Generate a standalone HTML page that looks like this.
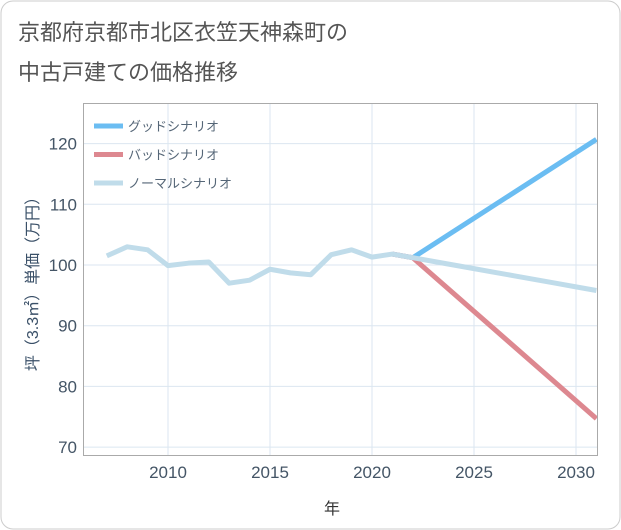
<!DOCTYPE html>
<html><head><meta charset="utf-8"><style>
body{margin:0;background:#fff;}
svg{display:block;font-family:"Liberation Sans","Noto Sans CJK JP",sans-serif;}
</style></head><body>
<svg width="621" height="530">
<rect x="1" y="1" width="619" height="528" rx="12" fill="#fff" stroke="#ccc"/>
<text x="18" y="40" font-size="22" fill="#555">京都府京都市北区衣笠天神森町の</text>
<text x="18" y="80" font-size="22" fill="#555">中古戸建ての価格推移</text>
<g id="grid"></g>
<g id="series"></g>
<rect x="83.5" y="103.5" width="514" height="352" fill="none" stroke="#aaa"/>
<g id="legend"></g>
<text x="38" y="280" font-size="16" fill="#3a5068" text-anchor="middle" transform="rotate(-90 38 280)">坪（3.3㎡）単価（万円）</text>
<text x="332" y="514" font-size="16" fill="#333" text-anchor="middle">年</text>
</svg>
<script>
const years=[2007,2008,2009,2010,2011,2012,2013,2014,2015,2016,2017,2018,2019,2020,2021,2022,2023,2024,2025,2026,2027,2028,2029,2030,2031];
const normal=[101.5,103,102.5,99.9,100.3,100.5,97,97.5,99.3,98.7,98.4,101.7,102.5,101.3,101.8,101.2,100.6,100.0,99.4,98.8,98.2,97.6,97.0,96.4,95.8];
const goodYears=[2021,2022,2031];
const good=[101.8,101.2,120.7];
const badYears=[2021,2022,2031];
const bad=[101.8,101.2,74.7];
const xTicks=[2010,2015,2020,2025,2030];
const yTicks=[70,80,90,100,110,120];
const NS='http://www.w3.org/2000/svg';
const X=v=>168+(v-2010)*20.4;
const Y=v=>265-(v-100)*6.07;
function mk(t,a,p){const e=document.createElementNS(NS,t);for(const k in a)e.setAttribute(k,a[k]);p.appendChild(e);return e;}
const g=document.getElementById('grid');
xTicks.forEach(t=>{
 const l=mk('line',{x1:X(t),x2:X(t),y1:104,y2:455,stroke:'#dbe6f0'},g);
 
 
 const tx=mk('text',{x:X(t),y:478,'font-size':17,fill:'#456','text-anchor':'middle'},g);
 tx.textContent=t;
 
 
});
yTicks.forEach(t=>{
 const l=mk('line',{x1:84,x2:597,y1:Y(t),y2:Y(t),stroke:'#dbe6f0'},g);
 
 
 const tx=mk('text',{x:77,y:Y(t)+6,'font-size':17,fill:'#456','text-anchor':'end'},g);
 tx.textContent=t;
 
 
});
const s=document.getElementById('series');
function line(xs,ys,c,name){
 const p=mk('polyline',{points:xs.map((x,i)=>X(x)+','+Y(ys[i])).join(' '),fill:'none',stroke:c,'stroke-width':5,'stroke-linejoin':'round'},s);
 
 
}
line(goodYears,good,'#6bbdf2','good-scenario-line');
line(badYears,bad,'#dd8890','bad-scenario-line');
line(years,normal,'#c0dcea','normal-scenario-line');
const lg=document.getElementById('legend');
[['グッドシナリオ','#6bbdf2'],['バッドシナリオ','#dd8890'],['ノーマルシナリオ','#c0dcea']].forEach((d,i)=>{
 const y=126+i*28.5;
 const l=mk('line',{x1:94,x2:123,y1:y,y2:y,stroke:d[1],'stroke-width':5},lg);
 
 
 const t=mk('text',{x:128,y:y+5,'font-size':13,fill:'#567'},lg);
 t.textContent=d[0];
 
 
});
</script>
</body></html>
